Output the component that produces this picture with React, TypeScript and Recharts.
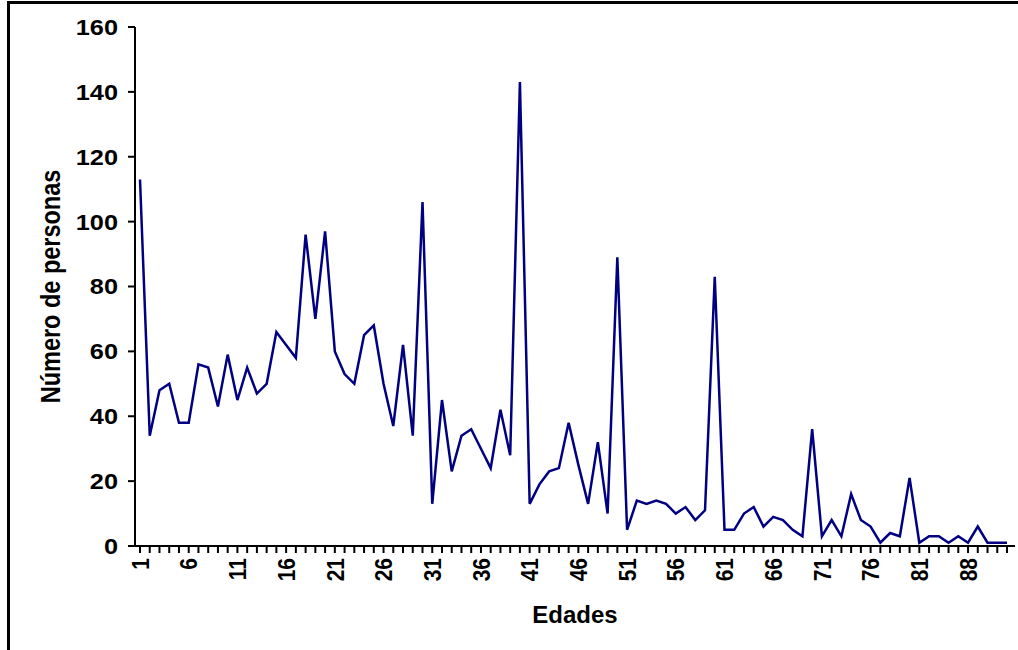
import React from 'react'
import { LineChart, Line, XAxis, YAxis, Label } from 'recharts'

// edades (categorías del eje X)
const EDADES = [
  '1', '2', '3', '4', '5', '6', '7', '8', '9', '10',
  '11', '12', '13', '14', '15', '16', '17', '18', '19', '20',
  '21', '22', '23', '24', '25', '26', '27', '28', '29', '30',
  '31', '32', '33', '34', '35', '36', '37', '38', '39', '40',
  '41', '42', '43', '44', '45', '46', '47', '48', '49', '50',
  '51', '52', '53', '54', '55', '56', '57', '58', '59', '60',
  '61', '62', '63', '64', '65', '66', '67', '68', '69', '70',
  '71', '72', '73', '74', '75', '76', '77', '78', '79', '80',
  '81', '83', '84', '85', '86', '88', '89', '90', '91', '92',
]

// número de personas por edad
const PERSONAS = [
  113, 34, 48, 50, 38, 38, 56, 55, 43, 59,
  45, 55, 47, 50, 66, 62, 58, 96, 70, 97,
  60, 53, 50, 65, 68, 50, 37, 62, 34, 106,
  13, 45, 23, 34, 36, 30, 24, 42, 28, 143,
  13, 19, 23, 24, 38, 25, 13, 32, 10, 89,
  5, 14, 13, 14, 13, 10, 12, 8, 11, 83,
  5, 5, 10, 12, 6, 9, 8, 5, 3, 36,
  3, 8, 3, 16, 8, 6, 1, 4, 3, 21,
  1, 3, 3, 1, 3, 1, 6, 1, 1, 1,
]

const Y_TICKS = [0, 20, 40, 60, 80, 100, 120, 140, 160]

const data = EDADES.map((edad, i) => ({ edad, personas: PERSONAS[i] }))

const FONT = '"Liberation Sans", Arial, Helvetica, sans-serif'

function EdadTick(props: any) {
  const { x, y, payload, index } = props
  if (index % 5 !== 0) return <g />
  return (
    <g transform={`translate(${x},${y}) rotate(-90) scale(1,1.15)`}>
      <text
        x={0}
        y={0}
        textAnchor="end"
        dy="0.36em"
        fontFamily={FONT}
        fontWeight="bold"
        fontSize={21}
        fill="#000"
      >
        {payload.value}
      </text>
    </g>
  )
}

function PersonasTick(props: any) {
  const { x, y, payload } = props
  return (
    <g transform={`translate(${x},${y}) scale(1.15,1)`}>
      <text
        x={0}
        y={0}
        textAnchor="end"
        dy="0.36em"
        fontFamily={FONT}
        fontWeight="bold"
        fontSize={22}
        fill="#000"
      >
        {payload.value}
      </text>
    </g>
  )
}

export default function App() {
  return (
    <div style={{ position: 'absolute', left: 0, top: 0, width: 1018, height: 650, background: '#fff', overflow: 'hidden' }}>
      <div
        style={{
          position: 'absolute', left: 7, top: 1, width: 1040, height: 700,
          border: '3px solid #000', boxSizing: 'border-box',
        }}
      />
      <div style={{ position: 'absolute', left: 0, top: 0 }}>
        <LineChart width={1018} height={650} data={data} margin={{ top: 27, right: 3, left: 0, bottom: 0 }}>
          <XAxis
            dataKey="edad"
            interval={0}
            height={104}
            padding={{ left: 5, right: 8 }}
            tick={<EdadTick />}
            tickSize={7}
            tickMargin={5}
            axisLine={{ stroke: '#000', strokeWidth: 2 }}
            tickLine={{ stroke: '#000', strokeWidth: 2 }}
          >
            <Label
              content={({ viewBox }: any) => (
                <text
                  x={viewBox.x + viewBox.width / 2}
                  y={viewBox.y + 77}
                  textAnchor="middle"
                  fontFamily={FONT}
                  fontWeight="bold"
                  fontSize={24}
                  fill="#000"
                >
                  Edades
                </text>
              )}
            />
          </XAxis>
          <YAxis
            width={135}
            domain={[0, 160]}
            ticks={Y_TICKS}
            interval={0}
            tick={<PersonasTick />}
            tickSize={7}
            tickMargin={10}
            axisLine={{ stroke: '#000', strokeWidth: 2 }}
            tickLine={{ stroke: '#000', strokeWidth: 2 }}
          >
            <Label
              content={({ viewBox }: any) => {
                const cx = 50
                const cy = viewBox.y + viewBox.height / 2
                return (
                  <g transform={`translate(${cx},${cy}) rotate(-90) scale(1,1.2)`}>
                    <text
                      x={0}
                      y={0}
                      textAnchor="middle"
                      dy="0.36em"
                      fontFamily={FONT}
                      fontWeight="bold"
                      fontSize={23.5}
                      fill="#000"
                    >
                      Número de personas
                    </text>
                  </g>
                )
              }}
            />
          </YAxis>
          <Line
            type="linear"
            dataKey="personas"
            stroke="#000080"
            strokeWidth={2.5}
            dot={false}
            isAnimationActive={false}
          />
        </LineChart>
      </div>
    </div>
  )
}
